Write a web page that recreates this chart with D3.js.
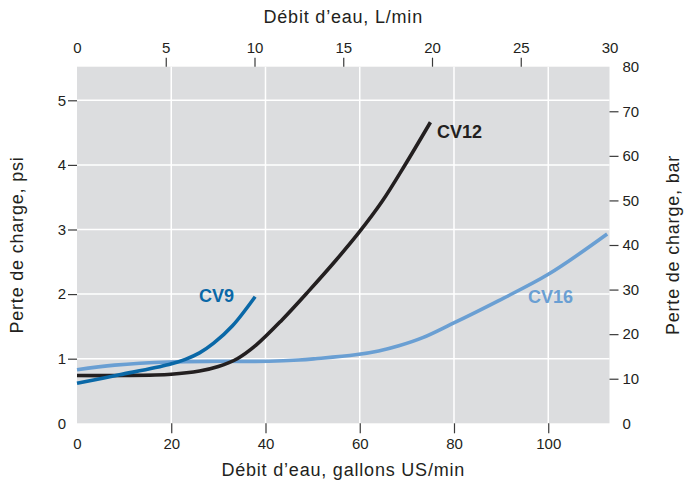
<!DOCTYPE html>
<html>
<head>
<meta charset="utf-8">
<script src="https://cdn.jsdelivr.net/npm/d3@7"></script>
<style>
  body { margin: 0; background: #fff; }
  text { font-family: "Liberation Sans", Arial, sans-serif; fill: #231f20; }
</style>
</head>
<body>
<div id="chart"></div>
<script>
// flow in US gallons/min, pressure drop in psi
var cv9Gpm  = [0, 9, 19.5, 23, 26, 29, 33, 37.8];
var cv9Psi  = [0.62, 0.75, 0.91, 0.99, 1.09, 1.24, 1.51, 1.96];
var cv12Gpm = [0, 10, 20, 26, 30, 34, 38, 43.5, 49.2, 54.9, 59.8, 64.8, 69.7, 75];
var cv12Psi = [0.74, 0.74, 0.76, 0.81, 0.88, 1.0, 1.21, 1.6, 2.05, 2.52, 2.95, 3.44, 4.01, 4.66];
var cv16Gpm = [0, 8, 19.5, 30, 40.7, 47.1, 50.6, 59.1, 64, 68.3, 73.5, 79.3, 89.5, 100.1, 112.5];
var cv16Psi = [0.83, 0.9, 0.95, 0.96, 0.96, 0.98, 1.0, 1.06, 1.12, 1.2, 1.33, 1.53, 1.9, 2.31, 2.93];

var gpmTicks = [0, 20, 40, 60, 80, 100];
var lpmTicks = [0, 5, 10, 15, 20, 25, 30];
var psiTicks = [0, 1, 2, 3, 4, 5];
var barTicks = [0, 10, 20, 30, 40, 50, 60, 70, 80];

var W = 692, H = 484;
var margin = { top: 66.7, right: 82.5, bottom: 60.7, left: 77 };
var width = W - margin.left - margin.right,
    height = H - margin.top - margin.bottom;

var svg = d3.select("#chart").append("svg")
    .attr("width", W).attr("height", H);
var g = svg.append("g").attr("transform", "translate(" + margin.left + "," + margin.top + ")");

var x = d3.scaleLinear().domain([0, 113]).range([0, width]);
var xTop = d3.scaleLinear().domain([0, 30]).range([0, width]);
var y = d3.scaleLinear().domain([0, 5.52]).range([height, 0]);
var yBar = d3.scaleLinear().domain([0, 80]).range([height, 0]);

g.append("rect").attr("width", width).attr("height", height).attr("fill", "#dcdddf");

// grid
g.selectAll(".vgrid").data(gpmTicks.slice(1)).enter().append("line")
    .attr("x1", d => x(d)).attr("x2", d => x(d))
    .attr("y1", 0).attr("y2", height)
    .attr("stroke", "#fff").attr("stroke-width", 1.5);
g.selectAll(".hgrid").data(psiTicks.slice(1)).enter().append("line")
    .attr("x1", 0).attr("x2", width)
    .attr("y1", d => y(d)).attr("y2", d => y(d))
    .attr("stroke", "#fff").attr("stroke-width", 1.5);

function styleAxis(sel, ends) {
    sel.select(".domain").remove();
    sel.selectAll(".tick line").attr("stroke", "#3a3a3a").attr("stroke-width", 1.2)
        .filter(d => ends.indexOf(d) >= 0).remove();
    sel.selectAll(".tick text").style("font-size", "15px").attr("fill", "#231f20");
}

g.append("g").attr("transform", "translate(0," + height + ")")
    .call(d3.axisBottom(x).tickValues(gpmTicks).tickSize(10).tickPadding(5))
    .call(s => styleAxis(s, [0]));
g.append("g")
    .call(d3.axisTop(xTop).tickValues(lpmTicks).tickSize(9).tickPadding(5))
    .call(s => styleAxis(s, [0, 30]));
g.append("g")
    .call(d3.axisLeft(y).tickValues(psiTicks).tickFormat(d3.format("d")).tickSize(9).tickPadding(2))
    .call(s => styleAxis(s, [0]));
g.append("g").attr("transform", "translate(" + width + ",0)")
    .call(d3.axisRight(yBar).tickValues(barTicks).tickSize(9).tickPadding(4))
    .call(s => styleAxis(s, [0, 80]));

// titles
function title(t) {
    return t.attr("text-anchor", "middle").style("font-size", "18px").style("letter-spacing", "0.8px");
}
title(svg.append("text").attr("x", margin.left + width / 2).attr("y", 23))
    .text("Débit d’eau, L/min");
title(svg.append("text").attr("x", margin.left + width / 2).attr("y", 476))
    .text("Débit d’eau, gallons US/min");
title(svg.append("text").attr("transform", "translate(23," + (margin.top + height / 2) + ") rotate(-90)"))
    .text("Perte de charge, psi");
title(svg.append("text").attr("transform", "translate(679," + (margin.top + height / 2) + ") rotate(-90)"))
    .text("Perte de charge, bar");

var line = d3.line().x(d => x(d[0])).y(d => y(d[1])).curve(d3.curveCatmullRom.alpha(0.5));

var series = [
    { name: "CV16", gpm: cv16Gpm, psi: cv16Psi, color: "#6a9fd3", lx: 95.7, ly: 1.96 },
    { name: "CV12", gpm: cv12Gpm, psi: cv12Psi, color: "#231f20", lx: 76.4, ly: 4.52 },
    { name: "CV9",  gpm: cv9Gpm,  psi: cv9Psi,  color: "#0a68a7", lx: 25.9, ly: 1.97 }
];

series.forEach(function(s) {
    var pts = s.gpm.map((v, i) => [v, s.psi[i]]);
    g.append("path").datum(pts)
        .attr("d", line)
        .attr("fill", "none")
        .attr("stroke", s.color)
        .attr("stroke-width", 3.6)
        .attr("stroke-linecap", "butt");
    g.append("text")
        .attr("x", x(s.lx)).attr("y", y(s.ly))
        .attr("dy", "0.35em")
        .style("font-size", "18px").style("font-weight", "bold")
        .style("fill", s.color)
        .text(s.name);
});
</script>
</body>
</html>
